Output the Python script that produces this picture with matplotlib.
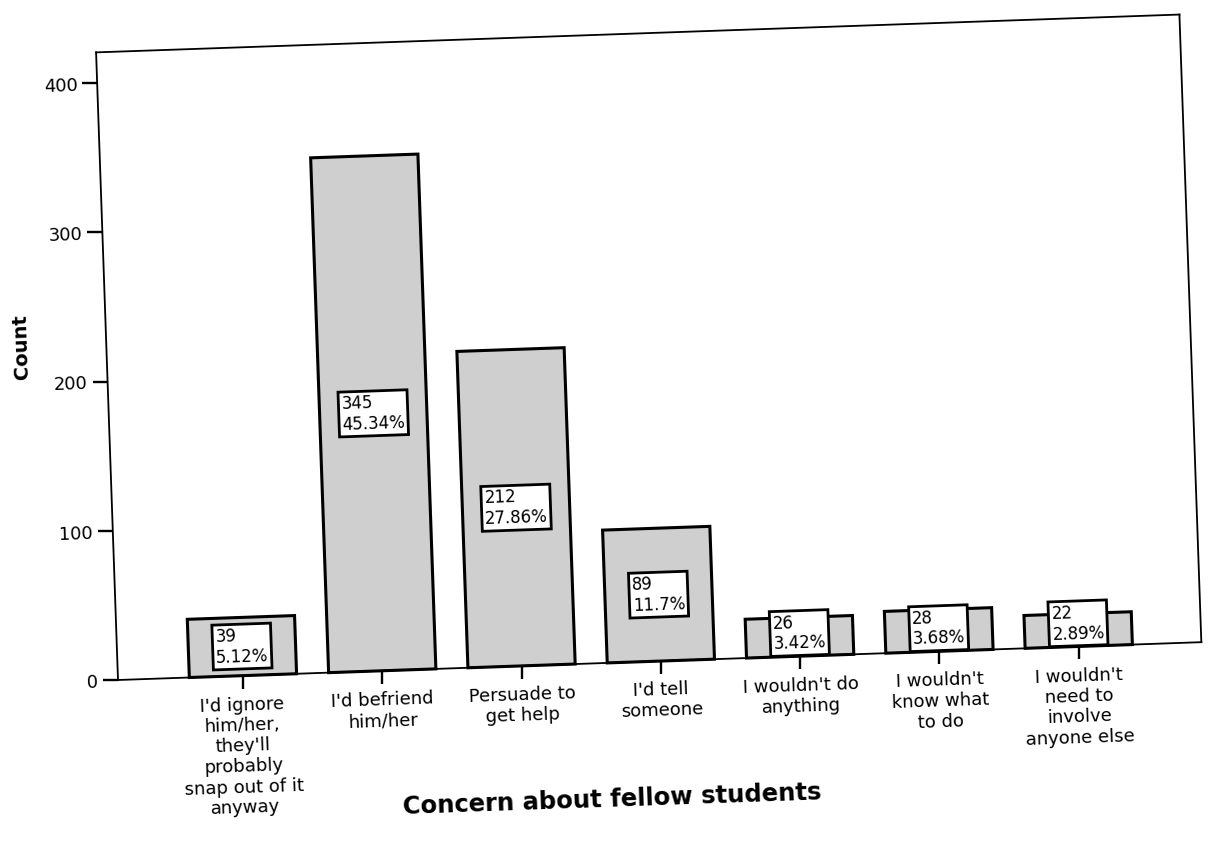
import matplotlib
matplotlib.use("Agg")
import matplotlib.pyplot as plt
from matplotlib.artist import Artist
from matplotlib.lines import Line2D
from matplotlib.patches import Patch
from matplotlib.text import Text
from matplotlib.transforms import Affine2D

# ---- data -------------------------------------------------------------
categories = [
    "I'd ignore\nhim/her,\nthey'll\nprobably\nsnap out of it\nanyway",
    "I'd befriend\nhim/her",
    "Persuade to\nget help",
    "I'd tell\nsomeone",
    "I wouldn't do\nanything",
    "I wouldn't\nknow what\nto do",
    "I wouldn't\nneed to\ninvolve\nanyone else",
]
counts = [39, 345, 212, 89, 26, 28, 22]
percents = ["5.12%", "45.34%", "27.86%", "11.7%", "3.42%", "3.68%", "2.89%"]
y_ticks = [0, 100, 200, 300, 400]

# value boxes sit at mid-bar, but never low enough to cross the baseline
MIN_LABEL_Y = 15.5
label_heights = [max(c / 2, MIN_LABEL_Y) for c in counts]

# ---- figure -------------------------------------------------------------
W, H = 1211, 846
plt.rcParams["font.family"] = ["DejaVu Sans"]
fig = plt.figure(figsize=(W / 100, H / 100), dpi=100)
fig.patch.set_facecolor("white")

AX_LEFT, AX_BOTTOM, AX_W, AX_H = 118, 166, 1084, 628
ax = fig.add_axes([AX_LEFT / W, AX_BOTTOM / H, AX_W / W, AX_H / H])
ax.patch.set_visible(False)

xpos = list(range(len(counts)))
ax.bar(xpos, counts, width=0.77, color="#cfcfcf", edgecolor="black",
       linewidth=2.2, zorder=2, clip_on=False)

for xi, c, p, ly in zip(xpos, counts, percents, label_heights):
    ax.text(xi, ly, f"{c}\n{p}", ha="center", va="center",
            multialignment="left", fontsize=12, linespacing=1.2,
            bbox=dict(boxstyle="square,pad=0.18", fc="white", ec="black",
                      lw=2.0),
            zorder=3, clip_on=False)

ax.set_xlim(-0.897, 6.88)
ax.set_ylim(0, 420.6)
ax.set_xticks(xpos, categories)
ax.set_yticks(y_ticks)
ax.tick_params(axis="both", direction="out", length=10.5, width=1.7,
               pad=3.5, labelsize=13, color="black")
ax.tick_params(axis="x", length=9.5, pad=4.0)
for lab in ax.get_xticklabels():
    lab.set_linespacing(1.18)

for s in ax.spines.values():
    s.set_linewidth(1.3)

ax.set_xlabel("Concern about fellow students", fontsize=17.5,
              fontweight="bold")
ax.set_ylabel("Count", fontsize=14, fontweight="bold")
ax.xaxis.set_label_coords(0.452, -0.218)
ax.yaxis.set_label_coords(-0.0787, 0.535)
ax.xaxis.label.set_va("center")
ax.yaxis.label.set_va("center")

# ---- slight counter-clockwise tilt of the whole chart -------------------
fig.canvas.draw()
TILT = 2.0
tilt = Affine2D().rotate_deg_around(AX_LEFT, AX_BOTTOM, TILT)
for art in fig.findobj(lambda a: isinstance(a, (Line2D, Patch, Text))):
    if art is fig.patch:
        continue
    art.set_transform(Artist.get_transform(art) + tilt)
    art.set_clip_on(False)
for t in fig.findobj(Text):
    t.set_rotation(t.get_rotation() + TILT)

fig.savefig("out.png", dpi=100, facecolor="white")
